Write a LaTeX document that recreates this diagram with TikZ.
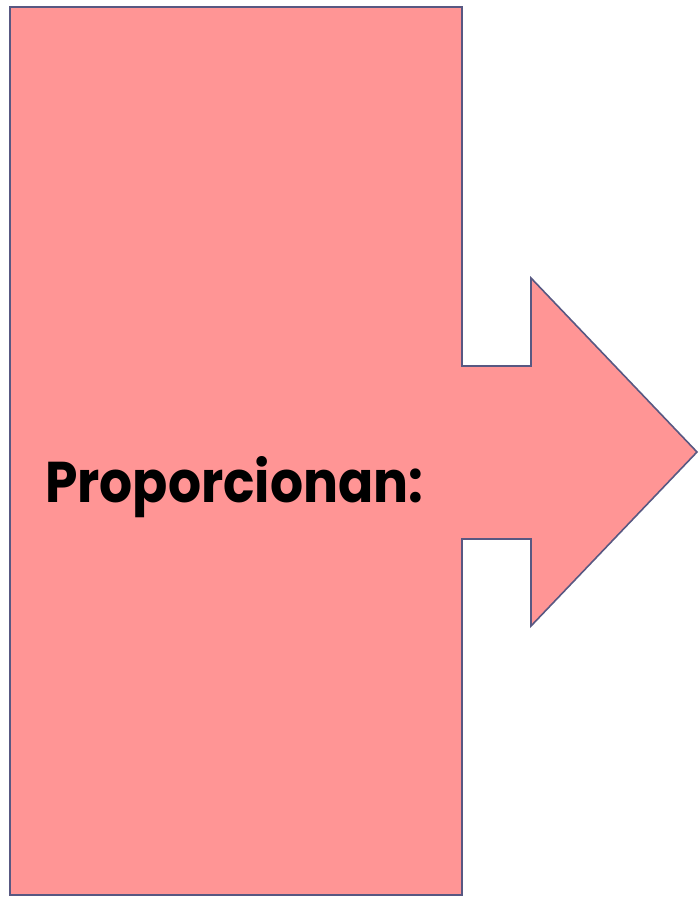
\documentclass[tikz,border=0pt]{standalone}
\usepackage{fontspec}
\setmainfont{Poppins}
\definecolor{shapefill}{RGB}{255,149,149}
\definecolor{shapeline}{RGB}{88,88,130}
\tikzset{
  shapebox/.style={fill=shapefill, draw=shapeline, line width=1.6pt, line join=miter},
  labeltext/.style={inner sep=0pt, anchor=base west, font=\bfseries}
}
\begin{document}
\begin{tikzpicture}[x=1pt,y=-1pt]
\useasboundingbox (0,0) rectangle (700,897);
\fill[white] (0,0) rectangle (700,897);
\draw[shapebox] (10,7) -- (462,7) -- (462,366) -- (531,366) -- (531,278)
  -- (697,452) -- (531,626) -- (531,539) -- (462,539) -- (462,895)
  -- (10,895) -- cycle;
\node[labeltext] (lbl) at (45,502) {\resizebox{378pt}{46pt}{Proporcionan:}};
\end{tikzpicture}
\end{document}
